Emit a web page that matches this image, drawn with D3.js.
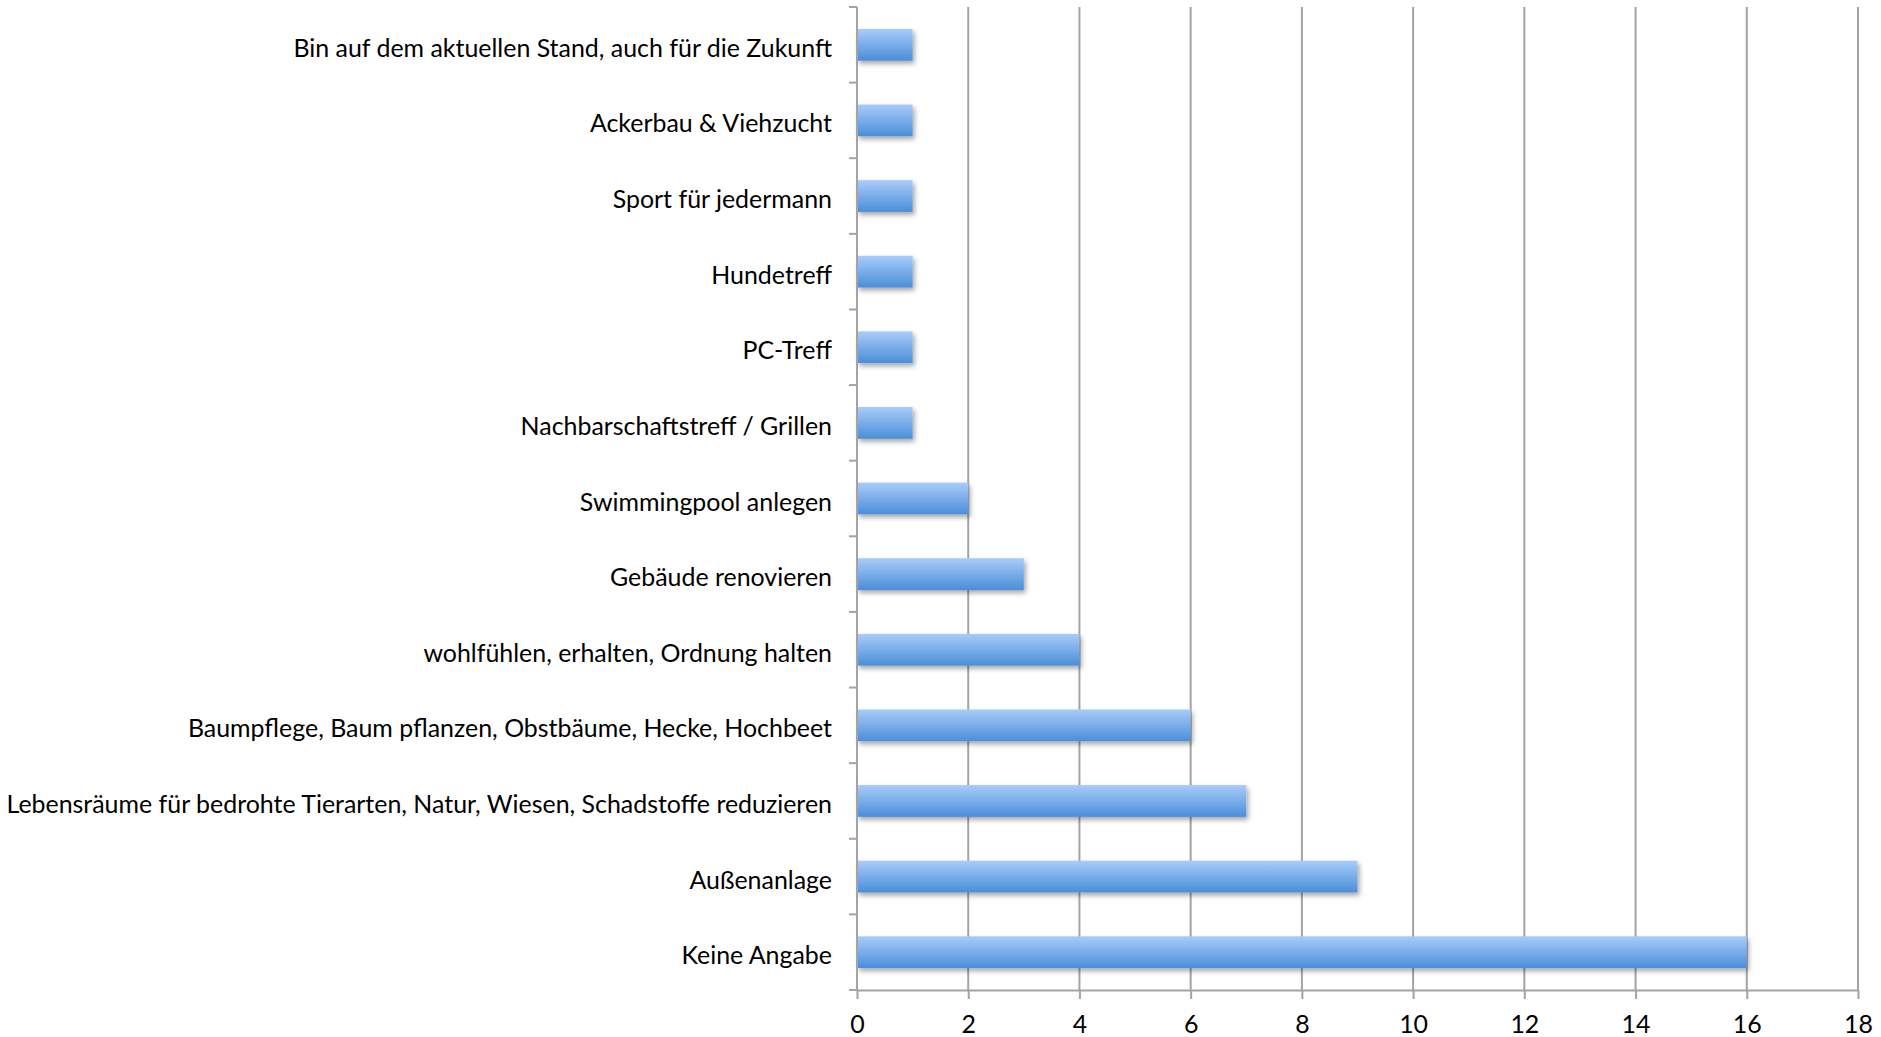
<!DOCTYPE html>
<html><head><meta charset="utf-8">
<script src="https://cdn.jsdelivr.net/npm/d3@7"></script>
<style>html,body{margin:0;padding:0;background:#fff;}svg{display:block;}</style>
</head><body>
<script>
const categories = [
  "Bin auf dem aktuellen Stand, auch für die Zukunft",
  "Ackerbau & Viehzucht",
  "Sport für jedermann",
  "Hundetreff",
  "PC-Treff",
  "Nachbarschaftstreff / Grillen",
  "Swimmingpool anlegen",
  "Gebäude renovieren",
  "wohlfühlen, erhalten, Ordnung halten",
  "Baumpflege, Baum pflanzen, Obstbäume, Hecke, Hochbeet",
  "Lebensräume für bedrohte Tierarten, Natur, Wiesen, Schadstoffe reduzieren",
  "Außenanlage",
  "Keine Angabe"
];
const values = [1,1,1,1,1,1,2,3,4,6,7,9,16];
const xTicks = [0,2,4,6,8,10,12,14,16,18];

const W = 1881, H = 1037;
const mLeft = 857, mRight = 1858, mTop = 7, mBottom = 990;
const svg = d3.select("body").append("svg").attr("width", W).attr("height", H);
const defs = svg.append("defs");
const grad = defs.append("linearGradient").attr("id","barGrad").attr("x1",0).attr("y1",0).attr("x2",0).attr("y2",1);
grad.append("stop").attr("offset","0%").attr("stop-color","#a8ccfa");
grad.append("stop").attr("offset","100%").attr("stop-color","#4b8ed8");
const f = defs.append("filter").attr("id","shadow").attr("x","-5%").attr("y","-30%").attr("width","120%").attr("height","190%");
f.append("feDropShadow").attr("dx",2).attr("dy",3).attr("stdDeviation",2.5).attr("flood-color","#000").attr("flood-opacity",0.35);

const x = d3.scaleLinear().domain([0,18]).range([mLeft,mRight]);
const pad = 0.58;
const y = d3.scaleBand().domain(categories).range([mTop,mBottom]).paddingInner(pad).paddingOuter(pad/2);
const step = y.step();

const gridColor = "#a3a3a3";
svg.append("g").selectAll("line").data(xTicks.filter(d=>d>0)).join("line")
  .attr("x1",d=>x(d)).attr("x2",d=>x(d)).attr("y1",mTop).attr("y2",mBottom)
  .attr("stroke",gridColor).attr("stroke-width",2);

svg.append("g").selectAll("rect").data(values).join("rect")
  .attr("x",x(0)).attr("y",(d,i)=>y(categories[i]))
  .attr("width",d=>x(d)-x(0)).attr("height",y.bandwidth())
  .attr("fill","url(#barGrad)").attr("filter","url(#shadow)");

const xAxis = d3.axisBottom(x).tickValues(xTicks).tickSize(9).tickPadding(16).tickSizeOuter(0);
const gx = svg.append("g").attr("transform",`translate(0,${mBottom})`).call(xAxis);
gx.select(".domain").attr("stroke",gridColor).attr("stroke-width",2);
gx.selectAll(".tick line").attr("stroke",gridColor).attr("stroke-width",2);
gx.selectAll(".tick text").attr("font-family","Lato, 'Open Sans', sans-serif").attr("font-size",24).attr("fill","#000");

svg.append("line").attr("x1",mLeft).attr("x2",mLeft).attr("y1",mTop).attr("y2",mBottom).attr("stroke",gridColor).attr("stroke-width",2);
const bounds = categories.map(c=>y(c)-step*pad/2).concat([mBottom]);
svg.append("g").selectAll("line").data(bounds).join("line")
  .attr("x1",mLeft-8).attr("x2",mLeft).attr("y1",d=>d).attr("y2",d=>d)
  .attr("stroke",gridColor).attr("stroke-width",2);

const labels = svg.append("g").selectAll("text").data(categories).join("text")
  .attr("x",mLeft-25).attr("y",c=>y(c)+y.bandwidth()/2+2)
  .attr("text-anchor","end").attr("dominant-baseline","central")
  .attr("font-family","Lato, 'Open Sans', sans-serif").attr("font-size",24).attr("fill","#000")
  .text(c=>c);
let maxW = 0; labels.each(function(){maxW=Math.max(maxW,this.getComputedTextLength());});
const fs = 24*826/maxW;
labels.attr("font-size",fs);
gx.selectAll(".tick text").attr("font-size",fs);
</script>
</body></html>
